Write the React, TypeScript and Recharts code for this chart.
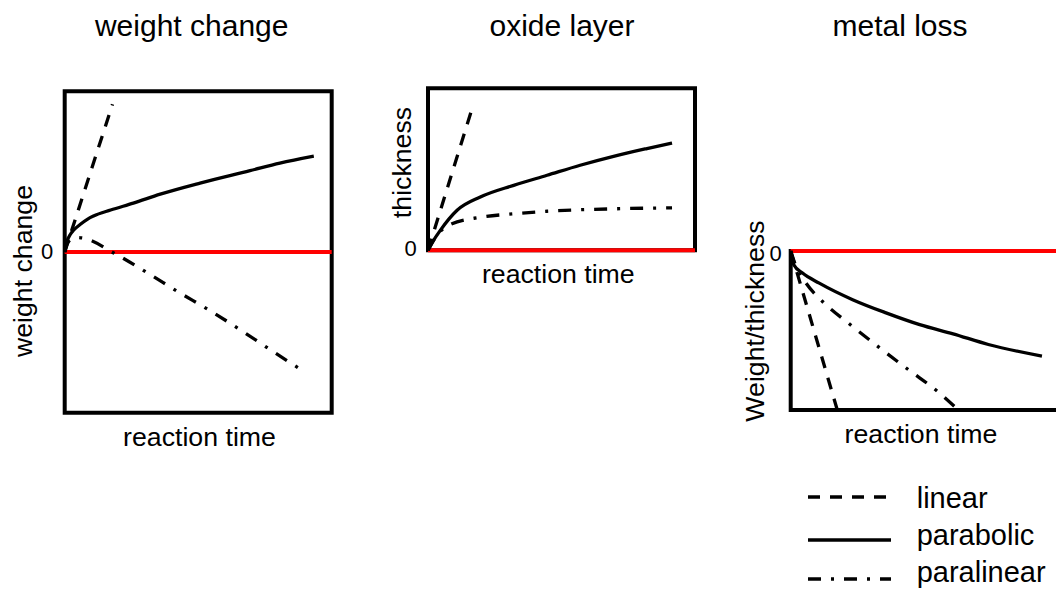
import { LineChart, Line, XAxis, YAxis, ReferenceArea, ReferenceLine } from "recharts";

// reaction time runs 0-100 across each box
const wcLinearT = [0, 17.9];
const wcLinearV = [0, 91.9];
const wcParabolicT = [0, 0.8, 2.2, 3.4, 6, 8.6, 10.8, 17.2, 25.7, 35.8, 50.7, 69.4, 80.6, 93.3];
const wcParabolicV = [0, 6.2, 11.2, 13.7, 17.4, 20.5, 22.4, 26.1, 30.4, 36, 42.9, 50.6, 55.3, 59.6];
const wcParalinearT = [0, 1.1, 2.6, 4.5, 6.7, 19, 31, 42.5, 54.5, 66.4, 77.6, 89.2];
const wcParalinearV = [0, 5.6, 8.1, 9, 8.7, -1.2, -13, -24.8, -36.6, -49.1, -61.5, -73.9];

const oxLinearT = [0, 17.1];
const oxLinearV = [0, 90.6];
const oxParabolicT = [0, 2.1, 4.6, 10.9, 19.6, 32.1, 44.6, 57, 69.5, 82, 91.4];
const oxParabolicV = [0, 6.2, 12.3, 24.7, 32.9, 40.1, 46.3, 52.5, 58, 62.8, 66.2];
const oxParalinearT = [0, 2.1, 4.6, 8.4, 19.6, 31.9, 44.6, 69.5, 91.4];
const oxParalinearV = [0, 6.2, 11.7, 16, 20.4, 22.5, 24.1, 25.6, 26.2];

const mlLinearT = [0, 17.3];
const mlLinearV = [0, -100];
const mlParabolicT = [0, 1.2, 4.4, 10.6, 23, 35.4, 47.9, 60.3, 73.4, 93.3];
const mlParabolicV = [0, -8.8, -13.9, -20.2, -30.6, -38.9, -46.3, -52.1, -58.8, -66.1];
const mlParalinearT = [0, 1.9, 5.6, 11.9, 21.6, 32.8, 44, 54.9, 61.9];
const mlParalinearV = [0, -9.4, -20, -31.9, -45.6, -60.6, -75, -88.8, -99.4];

const legendLabels = ["linear", "parabolic", "paralinear"];

const FONT = "'Liberation Sans', Arial, Helvetica, sans-serif";
const DASH = "12 10";
const DASH_DOT = "13 10 3 10";
const LW = 3.3;

const zip = (t: number[], v: number[]) => t.map((x, i) => ({ t: x, v: v[i] }));

interface PanelProps {
  left: number;
  top: number;
  width: number;
  height: number;
  margin: { top: number; right: number; bottom: number; left: number };
  yDomain: [number, number];
  linear: { t: number; v: number }[];
  parabolic: { t: number; v: number }[];
  paralinear: { t: number; v: number }[];
}

function Panel({ left, top, width, height, margin, yDomain, linear, parabolic, paralinear }: PanelProps) {
  return (
    <div style={{ position: "absolute", left, top }}>
      <LineChart width={width} height={height} margin={margin}>
        <XAxis type="number" dataKey="t" domain={[0, 100]} hide />
        <YAxis type="number" dataKey="v" domain={yDomain} hide />
        <ReferenceArea x1={0} x2={100} y1={yDomain[0]} y2={yDomain[1]} fill="none" stroke="#000" strokeWidth={4} />
        <ReferenceLine y={0} stroke="#ff0000" strokeWidth={4} />
        <Line data={linear} dataKey="v" type="linear" stroke="#000" strokeWidth={LW} strokeDasharray={DASH} dot={false} activeDot={false} isAnimationActive={false} />
        <Line data={parabolic} dataKey="v" type="monotone" stroke="#000" strokeWidth={LW} dot={false} activeDot={false} isAnimationActive={false} />
        <Line data={paralinear} dataKey="v" type="monotone" stroke="#000" strokeWidth={LW} strokeDasharray={DASH_DOT} dot={false} activeDot={false} isAnimationActive={false} />
      </LineChart>
    </div>
  );
}

export default function App() {
  const legendY = [497, 540, 579];
  const legendDash = [DASH, undefined, DASH_DOT];
  const legendBase = [508, 545, 582];
  return (
    <div style={{ position: "absolute", left: 0, top: 0, width: 1056, height: 589, overflow: "hidden", background: "#fff", fontFamily: FONT }}>
      <Panel
        left={0} top={0} width={340} height={430}
        margin={{ top: 91.3, right: 8.3, bottom: 17.3, left: 64.7 }}
        yDomain={[-100, 100]}
        linear={zip(wcLinearT, wcLinearV)}
        parabolic={zip(wcParabolicT, wcParabolicV)}
        paralinear={zip(wcParalinearT, wcParalinearV)}
      />
      <Panel
        left={380} top={60} width={330} height={210}
        margin={{ top: 28.3, right: 15, bottom: 19.7, left: 48 }}
        yDomain={[0, 100]}
        linear={zip(oxLinearT, oxLinearV)}
        parabolic={zip(oxParabolicT, oxParabolicV)}
        paralinear={zip(oxParalinearT, oxParalinearV)}
      />
      <Panel
        left={740} top={230} width={340} height={200}
        margin={{ top: 21, right: 20, bottom: 20, left: 50.7 }}
        yDomain={[-100, 0]}
        linear={zip(mlLinearT, mlLinearV)}
        parabolic={zip(mlParabolicT, mlParabolicV)}
        paralinear={zip(mlParalinearT, mlParalinearV)}
      />
      <svg width={1056} height={589} style={{ position: "absolute", left: 0, top: 0, pointerEvents: "none" }} fontFamily={FONT} fill="#000">
        <text x={191.7} y={36} fontSize={30} textAnchor="middle">weight change</text>
        <text x={562} y={36} fontSize={30} textAnchor="middle">oxide layer</text>
        <text x={900} y={36} fontSize={30} textAnchor="middle">metal loss</text>

        <text transform="translate(32,271) rotate(-90)" fontSize={26.7} textAnchor="middle">weight change</text>
        <text transform="translate(411,162.5) rotate(-90)" fontSize={26.7} textAnchor="middle">thickness</text>
        <text transform="translate(764,321) rotate(-90)" fontSize={26.7} textAnchor="middle">Weight/thickness</text>

        <text x={53.3} y={259} fontSize={22} textAnchor="end">0</text>
        <text x={416.7} y={255.5} fontSize={22} textAnchor="end">0</text>
        <text x={781.7} y={260.5} fontSize={22} textAnchor="end">0</text>

        <text x={199.5} y={446} fontSize={26.7} textAnchor="middle">reaction time</text>
        <text x={558.3} y={283} fontSize={26.7} textAnchor="middle">reaction time</text>
        <text x={921} y={443.3} fontSize={26.7} textAnchor="middle">reaction time</text>

        {legendLabels.map((label, i) => (
          <g key={label}>
            <line x1={808} x2={891} y1={legendY[i]} y2={legendY[i]} stroke="#000" strokeWidth={3.5} strokeDasharray={legendDash[i]} />
            <text x={916.7} y={legendBase[i]} fontSize={29}>{label}</text>
          </g>
        ))}
      </svg>
    </div>
  );
}
